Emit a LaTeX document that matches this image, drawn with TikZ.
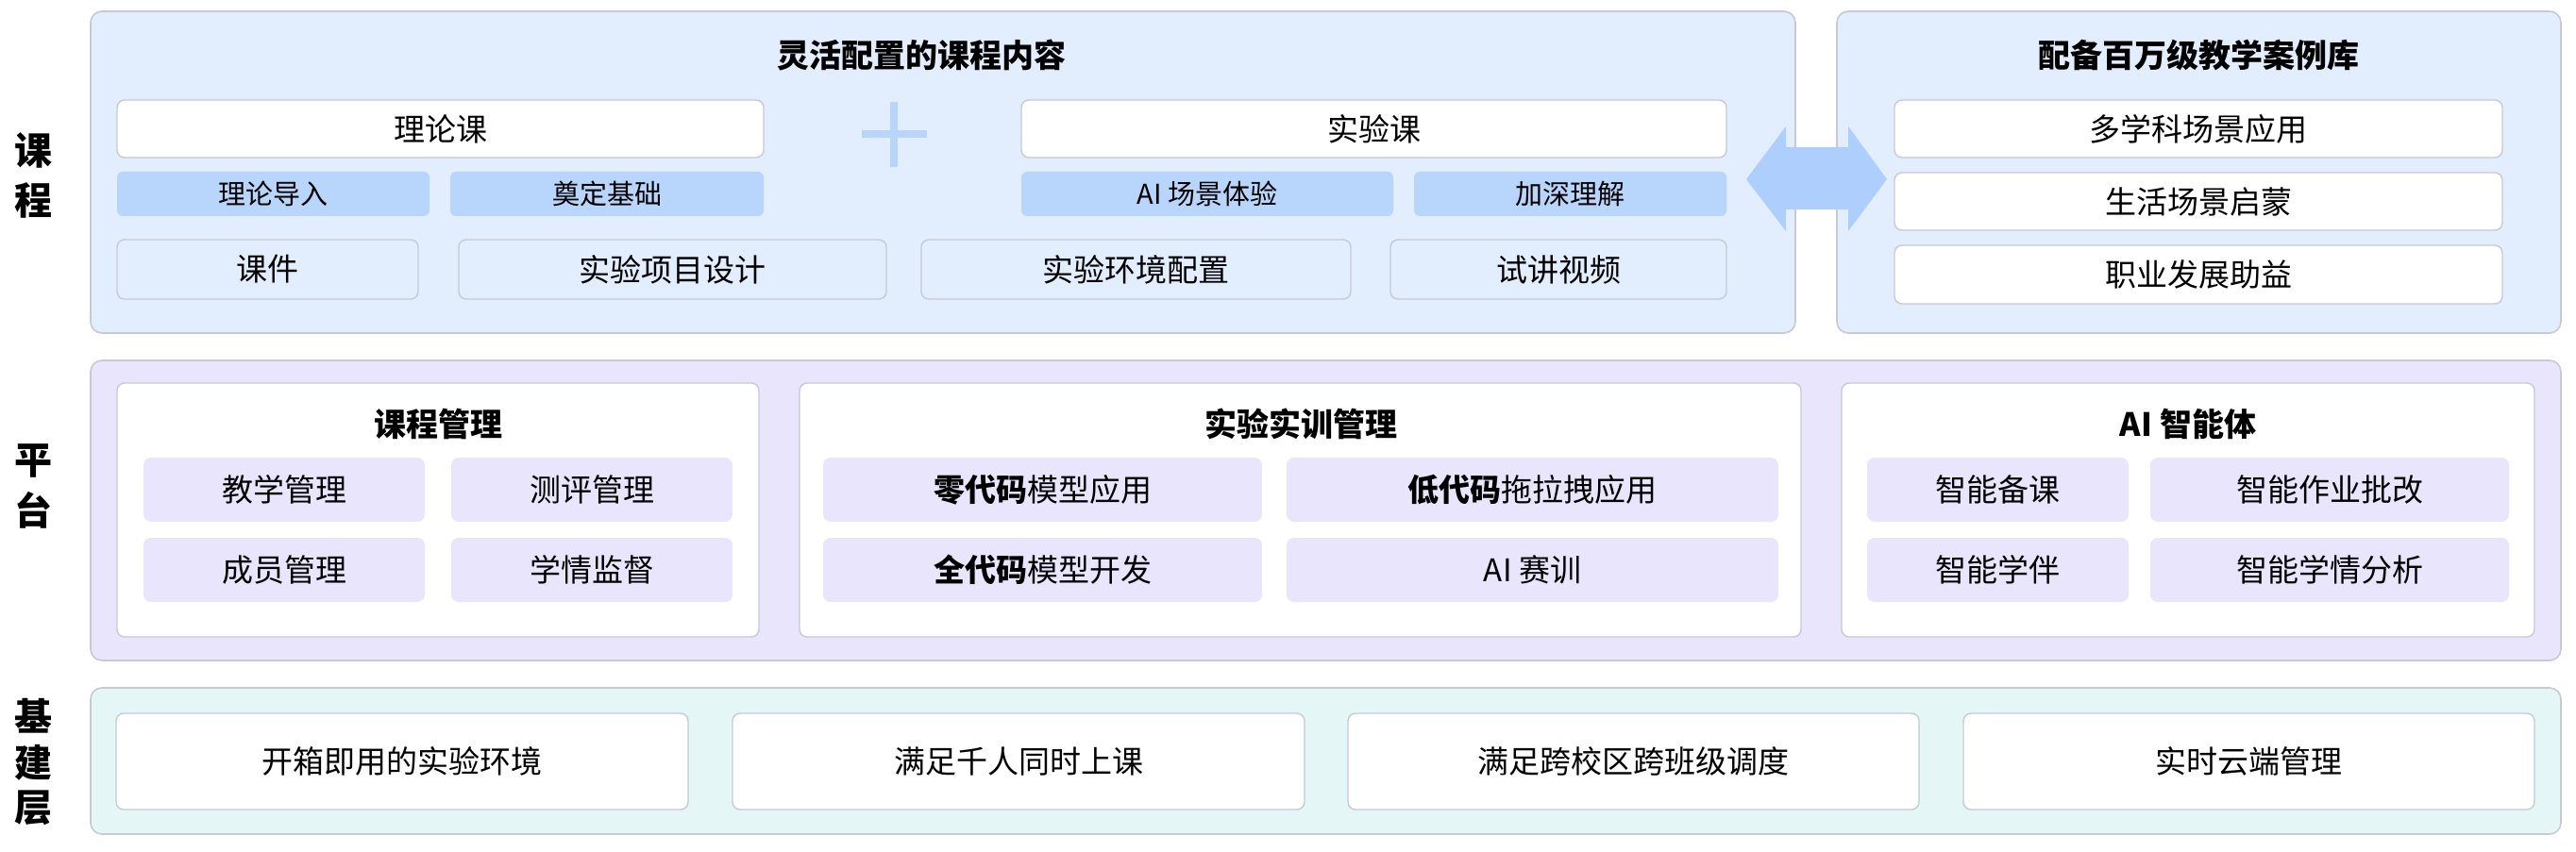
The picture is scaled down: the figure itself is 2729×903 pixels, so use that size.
\documentclass[tikz,border=0pt]{standalone}
\usepackage{fontspec}
\setmainfont{Noto Sans CJK SC}
\usetikzlibrary{positioning}
\definecolor{bluepanel}{HTML}{E2EDFE}
\definecolor{bluetag}{HTML}{B8D5FC}
\definecolor{bluearrow}{HTML}{AECFFD}
\definecolor{lavpanel}{HTML}{E8E5FD}
\definecolor{cyanpanel}{HTML}{E5F6F7}
\definecolor{edgegray}{HTML}{C5CAD4}
\newcommand\bx[7]{\node[#6, minimum width={(#4-#2)*0.5pt}, minimum height={(#5-#3)*0.5pt}] (#1) at ({(#2+#4)/2},{(#3+#5)/2}) {#7};}
\tikzset{
  panel/.style={draw=edgegray, line width=0.8pt, rounded corners=6pt, inner sep=0pt},
  whitebox/.style={draw=edgegray, line width=0.7pt, fill=white, rounded corners=4pt, inner sep=0pt, font=\fontsize{16.5}{18}\selectfont},
  lightbox/.style={draw=edgegray, line width=0.7pt, fill=bluepanel, rounded corners=4pt, inner sep=0pt, font=\fontsize{16.5}{18}\selectfont},
  tagbox/.style={fill=bluetag, rounded corners=3pt, inner sep=0pt, font=\fontsize{14.5}{16}\selectfont},
  lavbox/.style={fill=lavpanel, rounded corners=4pt, inner sep=0pt, font=\fontsize{16.5}{18}\selectfont},
  ttl/.style={font=\fontsize{17}{19}\selectfont\bfseries, inner sep=0pt},
  rowlbl/.style={font=\fontsize{20}{22}\selectfont\bfseries, inner sep=0pt},
}
\begin{document}
\begin{tikzpicture}[x=0.5pt,y=-0.5pt]
\useasboundingbox (0,0) rectangle (2729,903);
% row labels
\node[rowlbl] (lk1) at (35,159) {课};
\node[rowlbl] (lk2) at (35,212) {程};
\node[rowlbl] (lp1) at (35,488) {平};
\node[rowlbl] (lp2) at (35,541) {台};
\node[rowlbl] (li1) at (35,759) {基};
\node[rowlbl] (li2) at (35,808) {建};
\node[rowlbl] (li3) at (35,856) {层};
% course panel
\bx{course}{96}{12}{1902}{353}{panel, fill=bluepanel}{}
\bx{cases}{1946}{12}{2713}{353}{panel, fill=bluepanel}{}
\node[ttl] (t1) at (976,59) {灵活配置的课程内容};
\node[ttl] (t2) at (2329,59) {配备百万级教学案例库};
\bx{theory}{124}{106}{809}{167}{whitebox}{理论课}
\bx{lab}{1082}{106}{1829}{167}{whitebox}{实验课}
\bx{tg1}{124}{182}{455}{229}{tagbox}{理论导入}
\bx{tg2}{477}{182}{809}{229}{tagbox}{奠定基础}
\bx{tg3}{1082}{182}{1476}{229}{tagbox}{AI 场景体验}
\bx{tg4}{1498}{182}{1829}{229}{tagbox}{加深理解}
\bx{c1}{124}{254}{443}{317}{lightbox}{课件}
\bx{c2}{486}{254}{939}{317}{lightbox}{实验项目设计}
\bx{c3}{976}{254}{1431}{317}{lightbox}{实验环境配置}
\bx{c4}{1473}{254}{1829}{317}{lightbox}{试讲视频}
% plus sign
\fill[bluetag] (913,138) rectangle (982,146);
\fill[bluetag] (943,108) rectangle (951,177);
\bx{k1}{2007}{106}{2651}{167}{whitebox}{多学科场景应用}
\bx{k2}{2007}{183}{2651}{244}{whitebox}{生活场景启蒙}
\bx{k3}{2007}{260}{2651}{322}{whitebox}{职业发展助益}
% double arrow between course and cases
\fill[bluearrow] (1850,190) -- (1892,134) -- (1892,156) -- (1958,156) -- (1958,134) -- (1999,190) -- (1958,245) -- (1958,222) -- (1892,222) -- (1892,245) -- cycle;
% platform panel
\bx{plat}{96}{382}{2713}{700}{panel, fill=lavpanel}{}
\bx{pm}{124}{406}{804}{675}{whitebox}{}
\bx{pl}{847}{406}{1908}{675}{whitebox}{}
\bx{pa}{1951}{406}{2685}{675}{whitebox}{}
\node[ttl] (tpm) at (464,449) {课程管理};
\node[ttl] (tpl) at (1378,449) {实验实训管理};
\node[ttl] (tpa) at (2318,449) {AI 智能体};
\bx{m1}{152}{485}{450}{553}{lavbox}{教学管理}
\bx{m2}{478}{485}{776}{553}{lavbox}{测评管理}
\bx{m3}{152}{570}{450}{638}{lavbox}{成员管理}
\bx{m4}{478}{570}{776}{638}{lavbox}{学情监督}
\bx{e1}{872}{485}{1337}{553}{lavbox}{\textbf{零代码}模型应用}
\bx{e2}{1363}{485}{1884}{553}{lavbox}{\textbf{低代码}拖拉拽应用}
\bx{e3}{872}{570}{1337}{638}{lavbox}{\textbf{全代码}模型开发}
\bx{e4}{1363}{570}{1884}{638}{lavbox}{AI 赛训}
\bx{a1}{1978}{485}{2255}{553}{lavbox}{智能备课}
\bx{a2}{2278}{485}{2658}{553}{lavbox}{智能作业批改}
\bx{a3}{1978}{570}{2255}{638}{lavbox}{智能学伴}
\bx{a4}{2278}{570}{2658}{638}{lavbox}{智能学情分析}
% infrastructure panel
\bx{infra}{96}{729}{2713}{884}{panel, fill=cyanpanel}{}
\bx{i1}{123}{756}{729}{858}{whitebox}{开箱即用的实验环境}
\bx{i2}{776}{756}{1382}{858}{whitebox}{满足千人同时上课}
\bx{i3}{1428}{756}{2033}{858}{whitebox}{满足跨校区跨班级调度}
\bx{i4}{2080}{756}{2685}{858}{whitebox}{实时云端管理}
\end{tikzpicture}
\end{document}
